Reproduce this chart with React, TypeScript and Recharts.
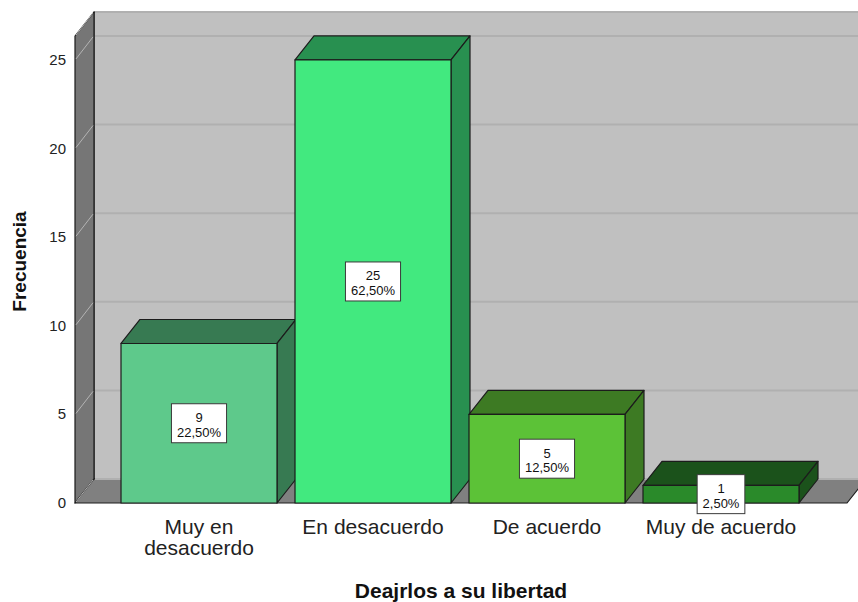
import React from 'react';
import { BarChart, Bar, XAxis, YAxis, CartesianGrid, LabelList } from 'recharts';

const categories = ['Muy en desacuerdo', 'En desacuerdo', 'De acuerdo', 'Muy de acuerdo'];
const counts = [9, 25, 5, 1];
const percents = ['22,50%', '62,50%', '12,50%', '2,50%'];
const yTicks = [0, 5, 10, 15, 20, 25];
const frontColors = ['#5ec98b', '#42e97f', '#5cc237', '#2a8a2a'];
const darkColors = ['#377a52', '#289050', '#3d7a23', '#1b521b'];

const data = categories.map((name, i) => ({ name, value: counts[i], pct: percents[i] }));

const FONT = '"Liberation Sans", Arial, sans-serif';
const DX = 19;
const DY = -24;
const EDGE = '#1c1c1c';

// bar as a box: front face, top face, right face
function Bar3D(props: any) {
  const { x, y, width, height, index } = props;
  const r = x + width;
  const b = y + height;
  const dark = darkColors[index];
  return (
    <g stroke={EDGE} strokeWidth={1.2} strokeLinejoin="round">
      <polygon points={`${x},${y} ${x + DX},${y + DY} ${r + DX},${y + DY} ${r},${y}`} fill={dark} />
      <polygon points={`${r},${y} ${r + DX},${y + DY} ${r + DX},${b + DY} ${r},${b}`} fill={dark} />
      <rect x={x} y={y} width={width} height={height} fill={frontColors[index]} />
    </g>
  );
}

// walls are drawn with the first grid line, then each line goes on the back wall + side wall
function GridLine(props: any) {
  const { x1, y1, x2, index, x, y, width, height } = props;
  let walls = null;
  if (index === 0 && y != null) {
    const b = y + height;
    const R = x + width;
    walls = (
      <g stroke={EDGE} strokeWidth={1.2} strokeLinejoin="round">
        <rect x={x + DX} y={y + DY} width={width} height={height} fill="#c0c0c0" />
        <polygon points={`${x},${y} ${x + DX},${y + DY} ${x + DX},${b + DY} ${x},${b}`} fill="#767676" />
        <polygon points={`${x},${b} ${x + DX},${b + DY} ${R + DX},${b + DY} ${R},${b}`} fill="#808080" />
      </g>
    );
  }
  return (
    <g>
      {walls}
      <line x1={x1 + DX + 1} y1={y1 + DY} x2={x2 + DX} y2={y1 + DY} stroke="#b0b0b0" strokeWidth={2} />
      <line x1={x1 + 1} y1={y1 - 1} x2={x1 + DX - 1} y2={y1 + DY + 1} stroke="#b4b4b4" strokeWidth={1} />
    </g>
  );
}

function YTick({ x, y, payload }: any) {
  return (
    <text x={x} y={y} dy={5} textAnchor="end" fontSize={15} fontFamily={FONT} fill="#222">
      {payload.value}
    </text>
  );
}

// greedy word wrap, rough width estimate per character
function wrap(label: string, maxW: number, charPx: number) {
  const lines: string[] = [];
  let cur = '';
  label.split(' ').forEach((w) => {
    const next = cur ? cur + ' ' + w : w;
    if (cur && next.length * charPx > maxW) {
      lines.push(cur);
      cur = w;
    } else cur = next;
  });
  if (cur) lines.push(cur);
  return lines;
}

function XTick({ x, y, payload }: any) {
  const lines = wrap(String(payload.value), 160, 10.6);
  return (
    <text x={x} y={y + 31} textAnchor="middle" fontSize={21} fontFamily={FONT} fill="#222">
      {lines.map((l, i) => (
        <tspan key={i} x={x} dy={i === 0 ? 0 : 21}>
          {l}
        </tspan>
      ))}
    </text>
  );
}

function XTitle({ viewBox }: any) {
  return (
    <text x={viewBox.x + viewBox.width / 2} y={viewBox.y + 95} textAnchor="middle" fontSize={21} fontWeight="bold" fontFamily={FONT} fill="#111">
      Deajrlos a su libertad
    </text>
  );
}

function YTitle({ viewBox }: any) {
  const cx = viewBox.x - 16;
  const cy = viewBox.y + viewBox.height / 2 - 8;
  return (
    <text x={cx} y={cy} transform={`rotate(-90 ${cx} ${cy})`} textAnchor="middle" dy={7} fontSize={19} fontWeight="bold" fontFamily={FONT} fill="#111">
      Frecuencia
    </text>
  );
}

const charW = (s: string) =>
  s.split('').reduce((w, c) => w + (c === ',' ? 3.7 : c === '%' ? 11.8 : 7.4), 0);

function ValueBox(props: any) {
  const vb = props.viewBox && props.viewBox.width != null ? props.viewBox : props;
  const { x, y, width, height } = vb;
  const i = props.index;
  const cx = x + width / 2;
  const cy = y + height / 2;
  const top = String(counts[i]);
  const bottom = percents[i];
  const w = Math.max(charW(top), charW(bottom)) + 10;
  return (
    <g>
      <rect x={cx - w / 2} y={cy - 19.5} width={w} height={39} fill="#ffffff" stroke="#3a3a3a" strokeWidth={1} />
      <text x={cx} y={cy - 1} textAnchor="middle" fontSize={13} fontFamily={FONT} fill="#111">{top}</text>
      <text x={cx} y={cy + 13.5} textAnchor="middle" fontSize={13} fontFamily={FONT} fill="#111">{bottom}</text>
    </g>
  );
}

export default function App() {
  return (
    <div style={{ width: 858, height: 602, background: '#fff' }}>
      <style>{'body{margin:0}'}</style>
      <BarChart width={858} height={602} data={data} margin={{ top: 36, right: 11, left: 35, bottom: 39 }}>
        <CartesianGrid vertical={false} horizontal={(p: any) => <GridLine key={p.key} {...p} />} />
        <XAxis
          dataKey="name"
          height={60}
          padding={{ left: 37, right: 39 }}
          axisLine={false}
          tickLine={false}
          tickSize={0}
          tickMargin={0}
          interval={0}
          tick={<XTick />}
          label={{ content: XTitle }}
        />
        <YAxis
          type="number"
          domain={[0, 26.35]}
          ticks={yTicks}
          width={40}
          axisLine={false}
          tickLine={false}
          tickSize={9}
          tickMargin={0}
          tick={<YTick />}
          label={{ content: YTitle }}
        />
        <Bar dataKey="value" barSize={156} shape={<Bar3D />} isAnimationActive={false}>
          <LabelList dataKey="value" content={ValueBox} />
        </Bar>
      </BarChart>
    </div>
  );
}
